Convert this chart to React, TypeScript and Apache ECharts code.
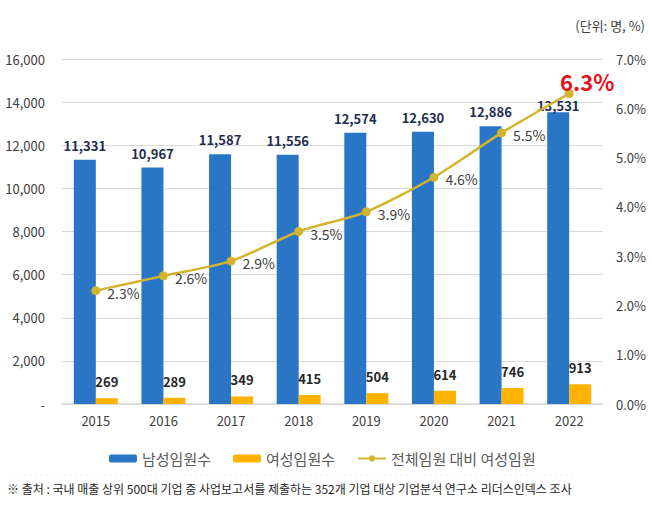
import React, { useEffect, useRef } from "react";
import * as echarts from "echarts";

const years = ["2015", "2016", "2017", "2018", "2019", "2020", "2021", "2022"];
const maleExecs = [11331, 10967, 11587, 11556, 12574, 12630, 12886, 13531];
const femaleExecs = [269, 289, 349, 415, 504, 614, 746, 913];
const femaleRatio = [2.3, 2.6, 2.9, 3.5, 3.9, 4.6, 5.5, 6.3];
const seriesNames = ["남성임원수", "여성임원수", "전체임원 대비 여성임원"];
const unitText = "(단위: 명, %)";
const sourceText =
  "※ 출처 : 국내 매출 상위 500대 기업 중 사업보고서를 제출하는 352개 기업 대상 기업분석 연구소 리더스인덱스 조사";

const FONT = "'Noto Sans CJK KR', 'Noto Sans', sans-serif";
const BLUE = "#2A76C6";
const ORANGE = "#FFB300";
const LINE = "#D4B42E";

export default function App() {
  const ref = useRef<HTMLDivElement>(null);

  useEffect(() => {
    if (!ref.current) return;
    const chart = echarts.init(ref.current, undefined, { renderer: "svg" });
    const lastIdx = femaleRatio.length - 1;
    chart.setOption({
      animation: false,
      backgroundColor: "#ffffff",
      textStyle: { fontFamily: FONT },
      grid: { left: 62, right: 49, top: 59, bottom: 121 },
      legend: {
        data: seriesNames,
        left: 104,
        top: 446,
        itemWidth: 28,
        itemHeight: 8,
        itemGap: 22,
        textStyle: { fontSize: 15, color: "#595959", fontFamily: FONT },
      },
      graphic: [
        {
          type: "text",
          right: 7,
          top: 19,
          style: { text: unitText, fontSize: 13, fill: "#404040", fontFamily: FONT },
        },
        {
          type: "text",
          left: 7,
          top: 482,
          style: { text: sourceText, fontSize: 12, fill: "#262626", fontFamily: FONT },
        },
        {
          type: "line",
          shape: { x1: 10, y1: 475, x2: 575, y2: 475 },
          style: { stroke: "#EDEDED", lineWidth: 1, lineDash: [2, 3] },
        },
      ],
      xAxis: {
        type: "category",
        data: years,
        axisLine: { lineStyle: { color: "#D9D9D9", width: 1.5 } },
        axisTick: { show: false },
        axisLabel: { fontSize: 13, color: "#404040", margin: 10, fontFamily: FONT },
      },
      yAxis: [
        {
          type: "value",
          min: 0,
          max: 16000,
          interval: 2000,
          axisLine: { show: false },
          axisTick: { show: false },
          splitLine: { lineStyle: { color: "#D9D9D9", width: 1 } },
          axisLabel: {
            fontSize: 13,
            color: "#404040",
            margin: 17,
            fontFamily: FONT,
            formatter: (v: number) => (v === 0 ? "-" : v.toLocaleString("en-US")),
          },
        },
        {
          type: "value",
          min: 0,
          max: 7,
          interval: 1,
          axisLine: { show: false },
          axisTick: { show: false },
          splitLine: { show: false },
          axisLabel: {
            fontSize: 13,
            color: "#404040",
            margin: 13,
            fontFamily: FONT,
            formatter: (v: number) => v.toFixed(1) + "%",
          },
        },
      ],
      series: [
        {
          name: seriesNames[0],
          type: "bar",
          yAxisIndex: 0,
          barWidth: 22,
          barGap: "0%",
          itemStyle: { color: BLUE },
          data: maleExecs.map((v, i) =>
            i === lastIdx ? { value: v, label: { distance: 0 } } : v
          ),
          label: {
            show: true,
            position: "top",
            distance: 8,
            fontSize: 13,
            fontWeight: "bold",
            color: "#1F2D50",
            fontFamily: FONT,
            formatter: (p: any) => Number(p.value).toLocaleString("en-US"),
          },
        },
        {
          name: seriesNames[1],
          type: "bar",
          yAxisIndex: 0,
          barWidth: 22,
          barGap: "0%",
          itemStyle: { color: ORANGE },
          data: femaleExecs,
          label: {
            show: true,
            position: "top",
            distance: 10,
            fontSize: 13,
            fontWeight: "bold",
            color: "#262626",
            fontFamily: FONT,
          },
        },
        {
          name: seriesNames[2],
          type: "line",
          yAxisIndex: 1,
          smooth: 0.25,
          symbol: "circle",
          symbolSize: 9,
          lineStyle: { color: LINE, width: 2.5 },
          itemStyle: { color: LINE },
          z: 5,
          data: femaleRatio.map((v, i) =>
            i === lastIdx
              ? {
                  value: v,
                  label: {
                    position: "top",
                    distance: 0,
                    offset: [18, 3],
                    fontSize: 22,
                    fontWeight: "bold",
                    color: "#E8101A",
                  },
                }
              : v
          ),
          label: {
            show: true,
            position: "right",
            distance: 7,
            offset: [0, 2],
            fontSize: 14,
            color: "#404040",
            fontFamily: FONT,
            formatter: (p: any) => Number(p.value).toFixed(1) + "%",
          },
        },
      ],
    });
    return () => chart.dispose();
  }, []);

  return (
    <div
      ref={ref}
      style={{ position: "fixed", left: 0, top: 0, width: 652, height: 525, background: "#fff" }}
    />
  );
}
